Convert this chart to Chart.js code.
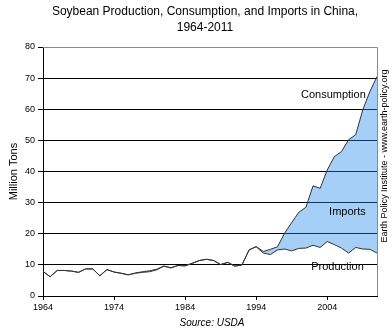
<!DOCTYPE html>
<html>
<head>
<meta charset="utf-8">
<script src="https://cdn.jsdelivr.net/npm/chart.js@4.4.1/dist/chart.umd.min.js"></script>
<style>
  html, body { margin: 0; padding: 0; background: #fff; }
  #wrap { width: 392px; height: 333px; position: relative; }
</style>
</head>
<body>
<div id="wrap"><canvas id="chart"></canvas></div>
<script>
// ===== Data (million tons) =====
const years = [];
for (let y = 1964; y <= 2011; y++) years.push(String(y));

const production = [
    7.9, 6.2, 8.2, 8.2, 8.0, 7.6, 8.7, 8.7, 6.5, 8.5,
    7.7, 7.3, 6.8, 7.3, 7.6, 7.8, 8.4, 9.6, 9.0, 9.8,
    9.7, 10.5, 11.4, 11.8, 11.4, 10.1, 10.8, 9.6, 10.0, 14.8,
    15.8, 13.8, 13.3, 14.8, 15.1, 14.5, 15.3, 15.4, 16.3, 15.6,
    17.5, 16.5, 15.4, 13.8, 15.6, 15.1, 15.0, 13.8
];

const consumption = [
    7.9, 6.2, 8.2, 8.2, 8.0, 7.6, 8.7, 8.7, 6.5, 8.5,
    7.7, 7.3, 6.8, 7.4, 7.8, 8.1, 8.6, 9.6, 9.1, 9.8,
    9.7, 10.5, 11.4, 11.8, 11.4, 10.1, 10.8, 9.6, 10.0, 14.8,
    15.9, 14.3, 15.0, 15.8, 20.2, 23.6, 26.9, 28.5, 35.4, 34.6,
    40.5, 44.8, 46.4, 50.2, 51.8, 59.8, 65.7, 70.5
];

const yTicks = [0, 10, 20, 30, 40, 50, 60, 70, 80];
const xTickYears = ['1964', '1974', '1984', '1994', '2004'];

const FONT = '"Liberation Sans", Arial, sans-serif';

// ===== Texts drawn around the plot =====
const textos = {
    id: 'textos',
    afterDraw(chart) {
        const { ctx, chartArea: a, scales } = chart;
        const x = scales.x, y = scales.y;
        ctx.save();

        // top and right border
        ctx.strokeStyle = '#8a8a8a';
        ctx.lineWidth = 1;
        ctx.beginPath();
        ctx.moveTo(a.left, a.top + 0.5);
        ctx.lineTo(a.right + 0.5, a.top + 0.5);
        ctx.lineTo(a.right + 0.5, a.bottom);
        ctx.stroke();

        ctx.fillStyle = '#000';
        ctx.textBaseline = 'middle';

        // title
        ctx.textAlign = 'center';
        ctx.font = '12px ' + FONT;
        ctx.fillText('Soybean Production, Consumption, and Imports in China,', 205, 12);
        ctx.fillText('1964-2011', 205, 28);

        // series labels
        ctx.font = '11px ' + FONT;
        ctx.textAlign = 'right';
        ctx.fillText('Consumption', x.getPixelForValue(45) + 3, y.getPixelForValue(64.6));
        ctx.fillText('Imports', x.getPixelForValue(45) + 3, y.getPixelForValue(27));
        ctx.fillText('Production', x.getPixelForValue(45) + 1, y.getPixelForValue(9.3));

        // source
        ctx.textAlign = 'center';
        ctx.font = 'italic 10px ' + FONT;
        ctx.fillText('Source: USDA', 212, 323);

        // y title
        ctx.font = '11px ' + FONT;
        ctx.translate(14, (a.top + a.bottom) / 2);
        ctx.rotate(-Math.PI / 2);
        ctx.fillText('Million Tons', 0, 0);
        ctx.restore();

        // side credit
        ctx.save();
        ctx.fillStyle = '#000';
        ctx.textAlign = 'center';
        ctx.textBaseline = 'middle';
        ctx.font = '9px ' + FONT;
        ctx.translate(385, 156);
        ctx.rotate(-Math.PI / 2);
        ctx.fillText('Earth Policy Institute - www.earth-policy.org', 0, 0);
        ctx.restore();
    }
};

new Chart(document.getElementById('chart'), {
    type: 'line',
    data: {
        labels: years,
        datasets: [
            {
                label: 'Production',
                data: production,
                borderColor: '#333',
                borderWidth: 1,
                pointRadius: 0,
                tension: 0,
                fill: false
            },
            {
                label: 'Consumption',
                data: consumption,
                borderColor: '#333',
                borderWidth: 1,
                pointRadius: 0,
                tension: 0,
                fill: '-1',
                backgroundColor: 'rgba(32,135,235,0.4)'
            }
        ]
    },
    options: {
        responsive: true,
        maintainAspectRatio: false,
        animation: false,
        layout: { padding: { top: 47, right: 15, left: 0, bottom: 0 } },
        plugins: {
            legend: { display: false },
            tooltip: { enabled: false }
        },
        scales: {
            x: {
                type: 'category',
                offset: false,
                afterFit(scale) { scale.height = 37; },
                grid: {
                    drawOnChartArea: false,
                    drawTicks: true,
                    tickLength: 4,
                    color: c => (c.tick && xTickYears.includes(c.tick.label)) ? '#000' : 'rgba(0,0,0,0)'
                },
                border: { color: '#000', width: 1 },
                ticks: {
                    autoSkip: false,
                    maxRotation: 0,
                    color: '#000',
                    font: { family: FONT, size: 9 },
                    padding: 2,
                    callback: (v, i) => xTickYears.includes(years[i]) ? years[i] : ''
                }
            },
            y: {
                min: 0,
                max: 80,
                afterFit(scale) { scale.width = 43; },
                afterBuildTicks(scale) { scale.ticks = yTicks.map(v => ({ value: v })); },
                grid: {
                    color: c => c.tick && c.tick.value === 80 ? '#8a8a8a' : '#000',
                    tickColor: '#000',
                    tickLength: 5,
                    lineWidth: 1
                },
                border: { color: '#000', width: 1 },
                ticks: {
                    color: '#000',
                    font: { family: FONT, size: 9 },
                    padding: 3
                }
            }
        }
    },
    plugins: [textos]
});
</script>
</body>
</html>
